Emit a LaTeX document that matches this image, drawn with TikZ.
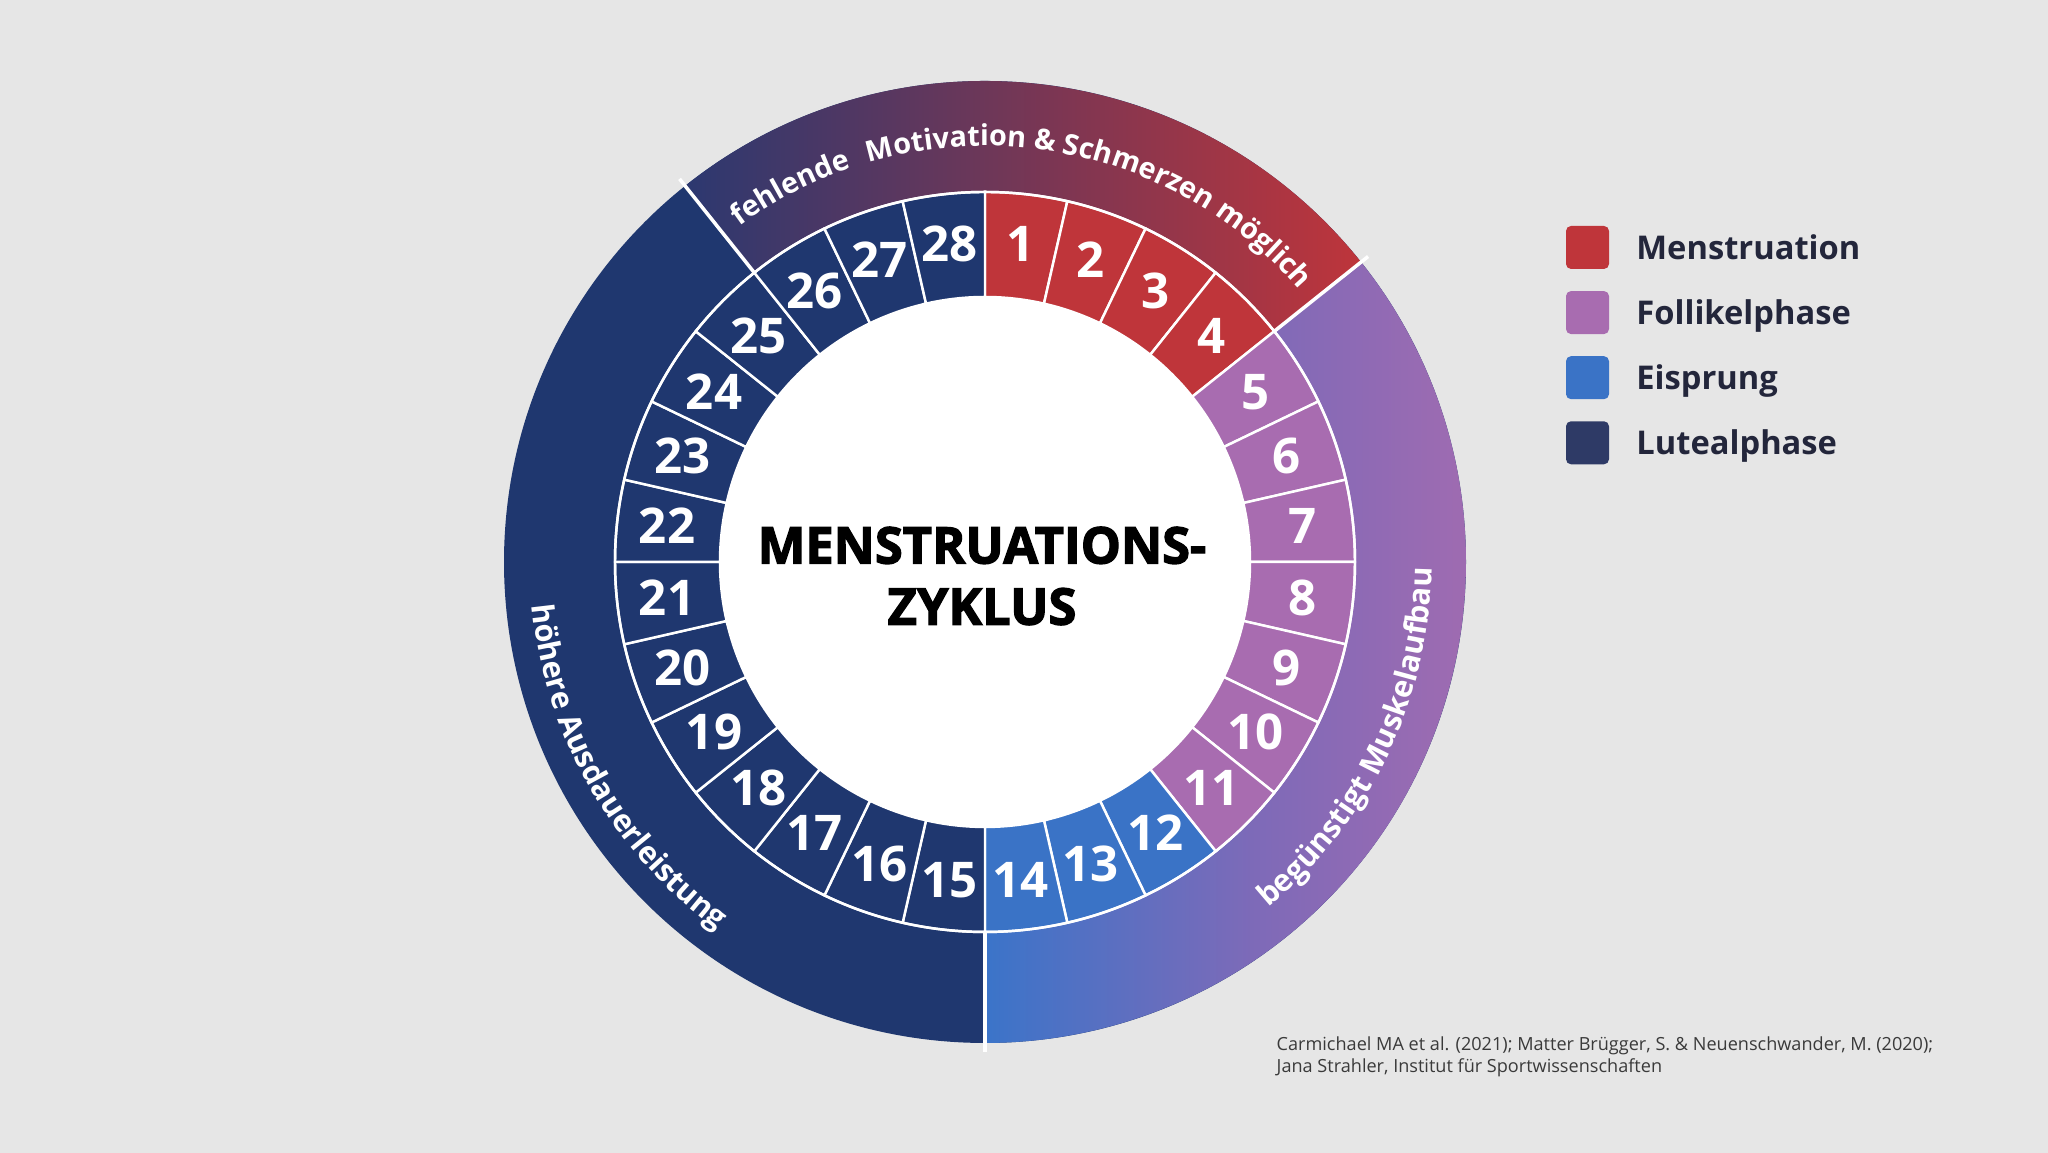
\documentclass[tikz,border=0pt]{standalone}
\usepackage{fontspec}
\setmainfont{Open Sans}
\newfontfamily\titlefont{Open Sans}[BoldFeatures={FakeBold=2.5}]
\usetikzlibrary{calc, positioning, decorations.text}
\definecolor{bggray}{HTML}{E6E6E6}
\definecolor{mensred}{HTML}{BF353A}
\definecolor{follpurple}{HTML}{A86CB0}
\definecolor{eisblue}{HTML}{3A73C6}
\definecolor{lutnavy}{HTML}{1F376F}
\definecolor{legnavy}{HTML}{2E3A66}
\definecolor{legink}{HTML}{23263B}
\definecolor{citegray}{HTML}{3A3A3A}
\definecolor{topleft}{HTML}{2C3870}
\definecolor{topright}{HTML}{BE353B}
\definecolor{bandblue}{HTML}{3B74C9}
\definecolor{bandmid}{HTML}{7E6AB8}
\definecolor{bandpink}{HTML}{A86BAF}
\tikzset{
  daynum/.style={text=white,font=\fontsize{14}{14}\selectfont\bfseries,inner sep=0pt},
  legbox/.style={rectangle,rounded corners=0.5mm,minimum size=4.3mm,inner sep=0pt},
  legtext/.style={text=legink,font=\fontsize{9.3}{9.3}\selectfont\bfseries,inner sep=0pt,text height=6.6pt,text depth=0pt},
  divider/.style={draw=white,line width=1pt},
  seam/.style={draw=white,line width=0.7pt},
  bandtext/.style 2 args={decorate,decoration={text along path,text align=center,text color=white,
    text={|\fontsize{#1}{#1}\selectfont\bfseries|#2}}}
}

\begin{document}
\begin{tikzpicture}
\useasboundingbox (0,0) rectangle (20.48,11.53);
\fill[bggray] (0,0) rectangle (20.48,11.53);
\coordinate (C) at (9.85,5.91);
\fill[lutnavy] (C) circle[radius=4.81];
\shade[left color=topleft,right color=topright] ($(C)+(128.57:3.7)$) -- ($(C)+(128.57:4.81)$)
  arc[start angle=128.57,end angle=38.57,radius=4.81] -- ($(C)+(38.57:3.7)$)
  arc[start angle=38.57,end angle=128.57,radius=3.7] -- cycle;
\shade[left color=bandblue,right color=bandpink,middle color=bandmid] ($(C)+(38.57:3.7)$) -- ($(C)+(38.57:4.81)$)
  arc[start angle=38.57,end angle=-90,radius=4.81] -- ($(C)+(-90:3.7)$)
  arc[start angle=-90,end angle=38.57,radius=3.7] -- cycle;
\foreach \k in {1,...,28}{
  \pgfmathsetmacro{\a}{90-(\k-1)*360/28}
  \pgfmathsetmacro{\b}{90-\k*360/28}
  \pgfmathsetmacro{\m}{90-(\k-0.5)*360/28}
  \ifnum\k<5 \colorlet{segcol}{mensred}\else\ifnum\k<12 \colorlet{segcol}{follpurple}\else\ifnum\k<15 \colorlet{segcol}{eisblue}\else\colorlet{segcol}{lutnavy}\fi\fi\fi
  \path[fill=segcol,seam] ($(C)+(\a:2.65)$) -- ($(C)+(\a:3.7)$) arc[start angle=\a,end angle=\b,radius=3.7]
    -- ($(C)+(\b:2.65)$) arc[start angle=\b,end angle=\a,radius=2.65] -- cycle;
  \node[daynum] (d\k) at ($(C)+(\m:3.2)$) {\k};
}
\draw[seam] (C) circle[radius=3.7];
\fill[white] (C) circle[radius=2.65];
\draw[divider] ($(C)+(128.57:3.7)$) -- ($(C)+(128.57:4.9)$);
\draw[divider] ($(C)+(38.57:3.7)$) -- ($(C)+(38.57:4.9)$);
\draw[divider] ($(C)+(-90:3.7)$) -- ($(C)+(-90:4.9)$);
\path[bandtext={8.2}{fehlende{\hspace{3pt}} Motivation {\&} Schmerzen möglich}] ($(C)+(128.57:4.16)$)
  arc[start angle=128.57,end angle=38.57,radius=4.16];
\path[bandtext={8.7}{begünstigt Muskelaufbau}] ($(C)+(-50.7:4.47)$)
  arc[start angle=-50.7,end angle=-0.7,radius=4.47];
\path[bandtext={8.7}{höhere Ausdauerleistung}] ($(C)+(186.5:4.55)$)
  arc[start angle=186.5,end angle=233,radius=4.55];
\node[font=\titlefont\bfseries\fontsize{14.4}{17.4}\selectfont,align=center,inner sep=0pt] (title) at (9.82,5.77) {MENSTRUATIONS-\\ZYKLUS};
\node[legbox,fill=mensred] (sqmens) at (15.875,9.055) {};
\node[legbox,fill=follpurple,below=2.07mm of sqmens] (sqfoll) {};
\node[legbox,fill=eisblue,below=2.07mm of sqfoll] (sqeis) {};
\node[legbox,fill=legnavy,below=2.07mm of sqeis] (sqlut) {};
\node[legtext,right=2.6mm of sqmens] (labmens) {Menstruation};
\node[legtext,right=2.6mm of sqfoll] (labfoll) {Follikelphase};
\node[legtext,right=2.6mm of sqeis] (labeis) {Eisprung};
\node[legtext,right=2.6mm of sqlut] (lablut) {Lutealphase};
\node[font=\fontsize{5.15}{6.3}\selectfont,text=citegray,align=left,anchor=north west,inner sep=0pt] (cite) at (12.76,1.17)
  {Carmichael MA et al. (2021); Matter Brügger, S. \& Neuenschwander, M. (2020);\\Jana Strahler, Institut für Sportwissenschaften};
\end{tikzpicture}
\end{document}
